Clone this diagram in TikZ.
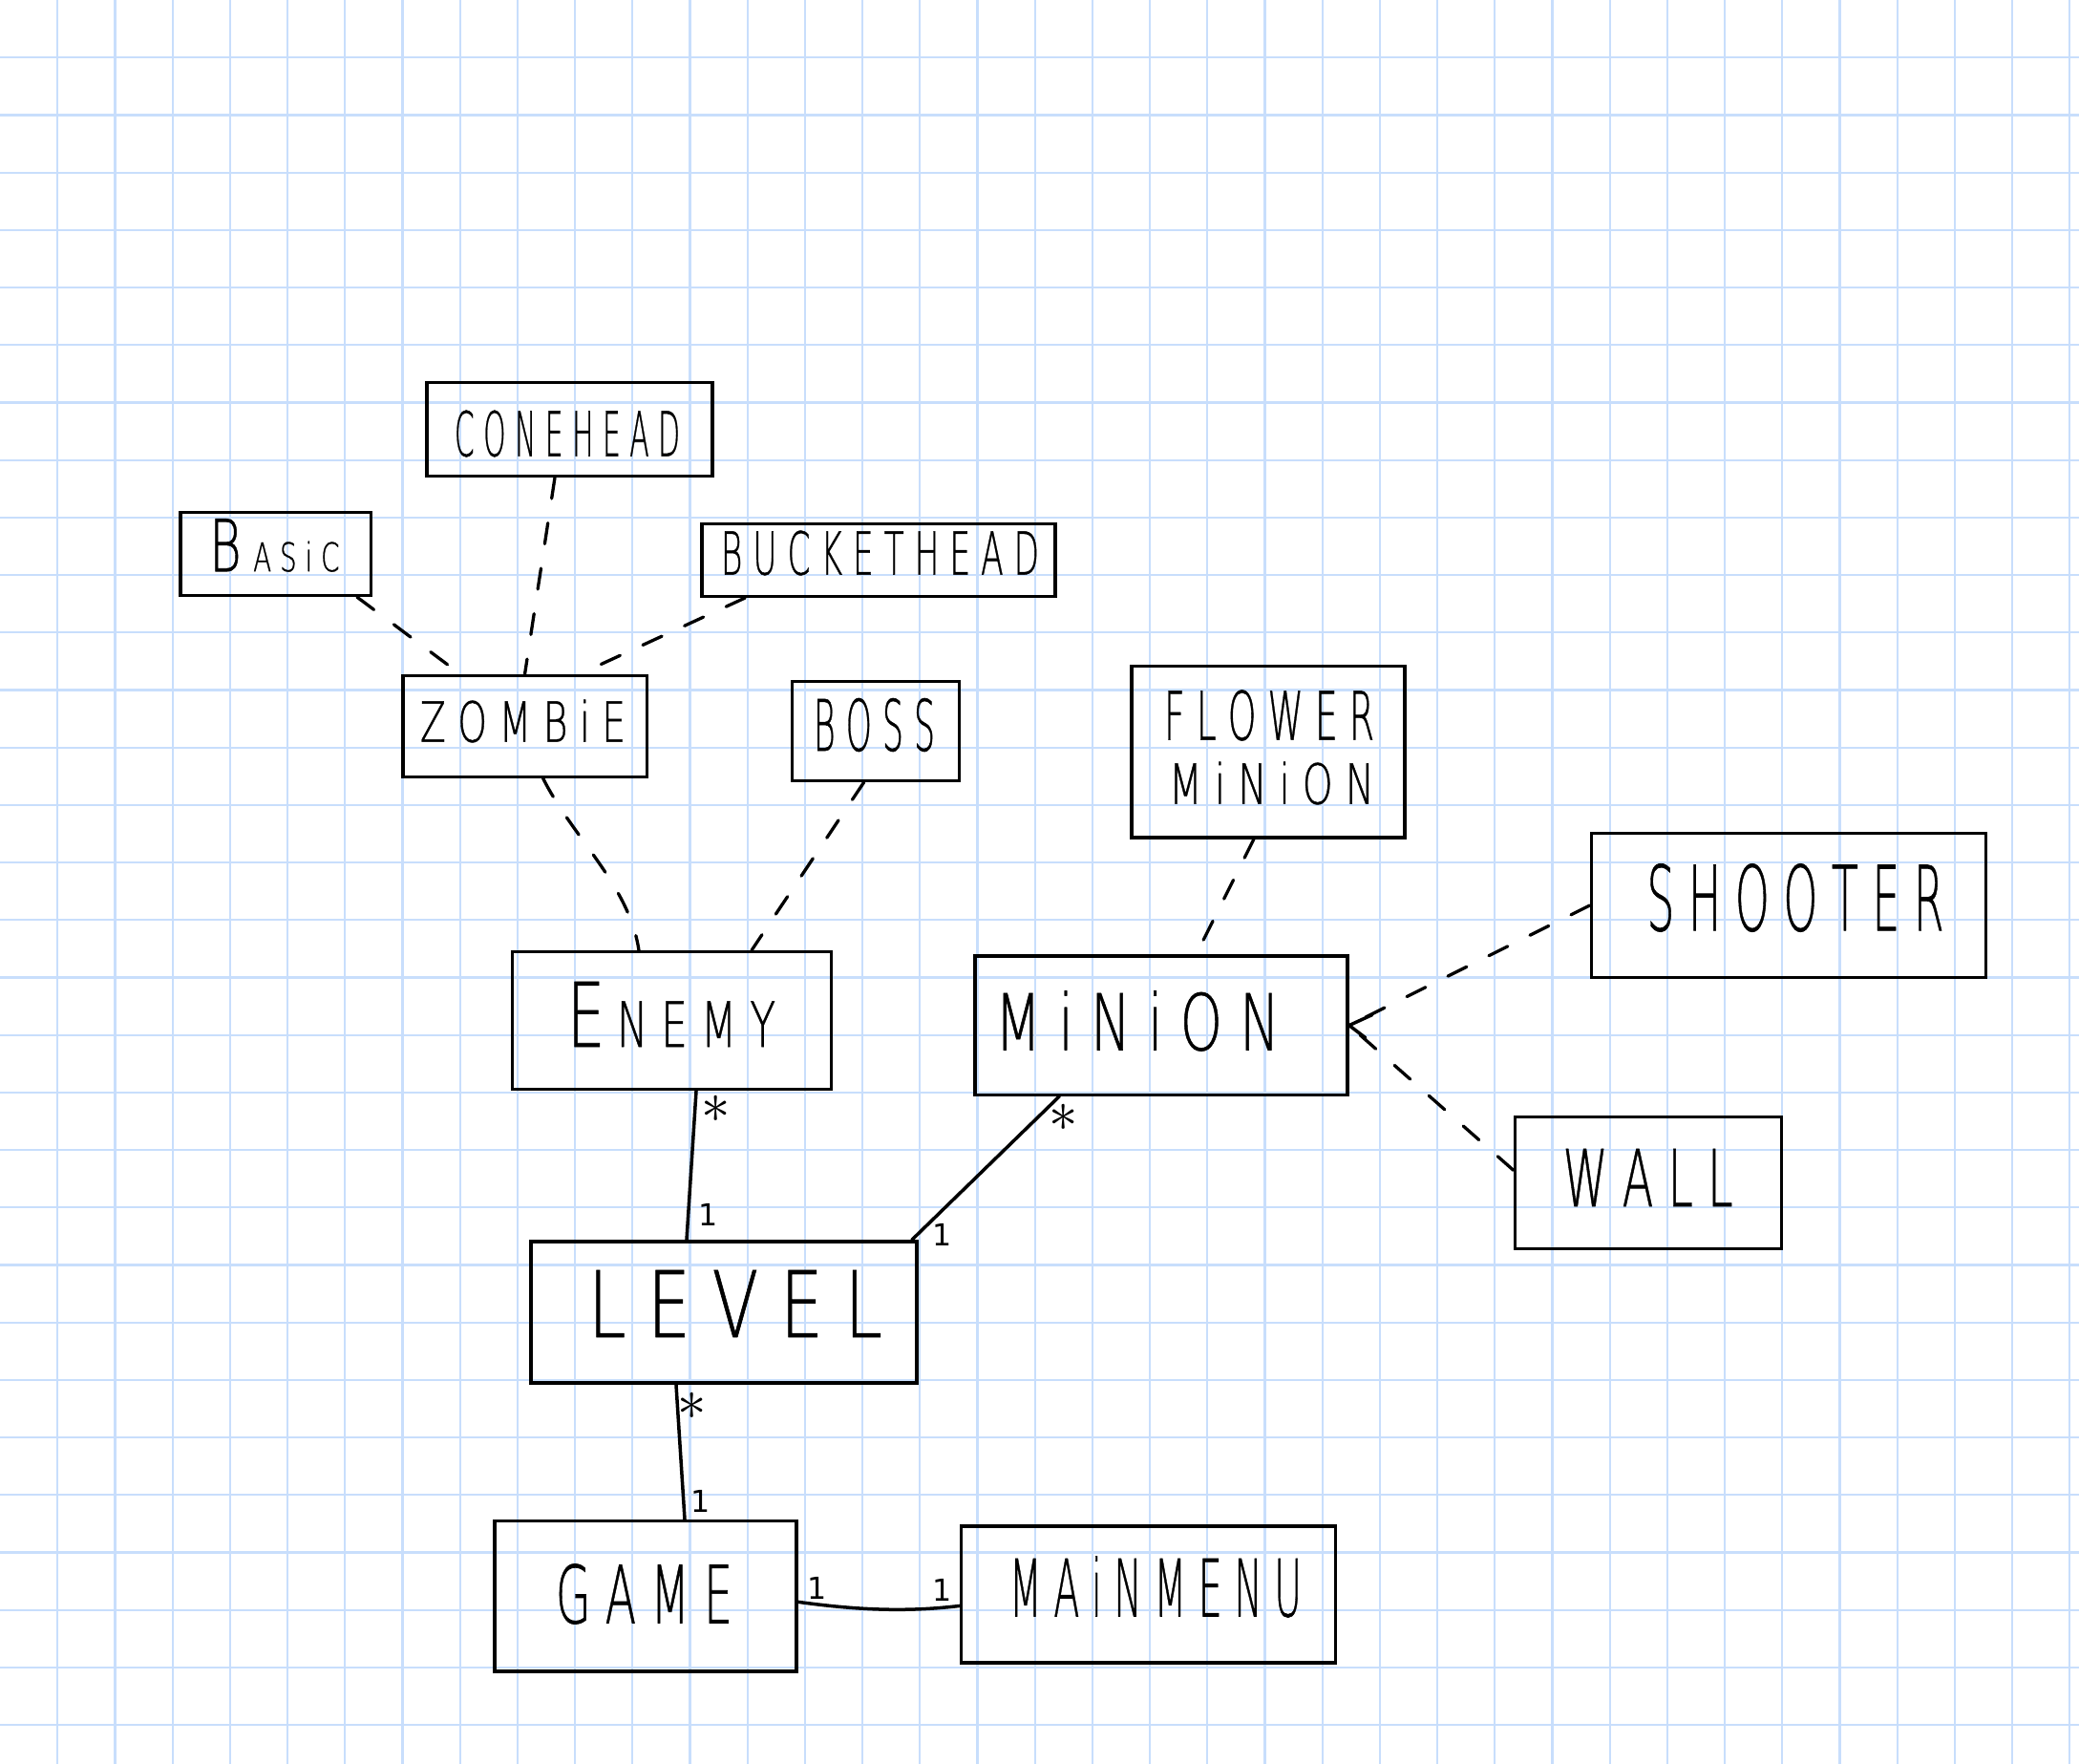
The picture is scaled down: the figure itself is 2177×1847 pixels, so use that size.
\documentclass[tikz,border=0pt]{standalone}
\usepackage{fontspec}
\usepackage{graphicx}
\IfFontExistsTF{DejaVu Sans ExtraLight}
  {\newfontfamily\hand{DejaVu Sans ExtraLight}[FakeBold=0.8]}
  {\IfFontExistsTF{DejaVuSans-ExtraLight.ttf}
    {\newfontfamily\hand{DejaVuSans-ExtraLight.ttf}[FakeBold=0.8]}
    {\newfontfamily\hand{DejaVu Sans}}}
\newfontfamily\handreg{DejaVu Sans}
\newcommand\hwtext[3]{\resizebox{#1}{#2}{\hand #3}}
\definecolor{gridblue}{RGB}{200,222,252}
\tikzset{
  grid line/.style={draw=gridblue, line width=0.022cm},
  classbox/.style={draw=black, line width=0.033cm, rectangle, inner sep=0pt},
  hw/.style={inner sep=0pt, anchor=center},
  dep/.style={draw=black, line width=0.033cm, dash pattern=on 0.22cm off 0.26cm, line cap=round},
  assoc/.style={draw=black, line width=0.035cm, line cap=round, line join=round},
  mult/.style={inner sep=0pt, font=\handreg\fontsize{9pt}{9pt}\selectfont},
  multstar/.style={inner sep=0pt, font=\LARGE},
}
\begin{document}
\begin{tikzpicture}[x=0.01cm,y=-0.01cm]
\useasboundingbox (0,0) rectangle (2177,1847);
\fill[white] (0,0) rectangle (2177,1847);
\foreach \k in {1,...,36} \draw[grid line] ({60.2*\k},0) -- ({60.2*\k},1847);
\foreach \k in {1,...,30} \draw[grid line] (0,{60.2*\k}) -- (2177,{60.2*\k});

% boxes
\node[classbox, minimum width=2.99cm, minimum height=0.98cm] (conehead) at (596.5,449.5) {};
\node[classbox, minimum width=1.99cm, minimum height=0.87cm] (basic) at (288.7,580) {};
\node[classbox, minimum width=3.70cm, minimum height=0.76cm] (bucket) at (920,586.3) {};
\node[classbox, minimum width=2.55cm, minimum height=1.06cm] (zombie) at (549.6,760.2) {};
\node[classbox, minimum width=1.75cm, minimum height=1.04cm] (boss) at (916.7,765.3) {};
\node[classbox, minimum width=2.86cm, minimum height=1.79cm] (flower) at (1328,787.3) {};
\node[classbox, minimum width=3.34cm, minimum height=1.44cm] (enemy) at (703.5,1068.7) {};
\node[classbox, minimum width=3.90cm, minimum height=1.45cm] (minion) at (1216,1073.6) {};
\node[classbox, minimum width=4.13cm, minimum height=1.51cm] (shooter) at (1873,948) {};
\node[classbox, minimum width=2.79cm, minimum height=1.38cm] (wall) at (1726,1238.3) {};
\node[classbox, minimum width=4.04cm, minimum height=1.48cm] (level) at (758,1374) {};
\node[classbox, minimum width=3.16cm, minimum height=1.57cm] (game) at (676,1671.3) {};
\node[classbox, minimum width=3.92cm, minimum height=1.43cm] (mainmenu) at (1202.6,1669.4) {};

% texts
\node[hw] (conehead-t) at (594,454) {\hwtext{2.36cm}{0.48cm}{C O N E H E A D}};
\node[hw] (basic-t) at (287.5,571) {\hwtext{1.36cm}{0.55cm}{B\hspace{0.25em}\scalebox{0.55}{A S i C}}};
\node[hw] (bucket-t) at (921.5,579) {\hwtext{3.33cm}{0.46cm}{B U C K E T H E A D}};
\node[hw] (zombie-t) at (547.5,755) {\hwtext{2.15cm}{0.44cm}{Z O M B i E}};
\node[hw] (boss-t) at (915.5,759) {\hwtext{1.27cm}{0.55cm}{B O S S}};
\node[hw] (flower-t1) at (1329,749) {\hwtext{2.20cm}{0.52cm}{F L O W E R}};
\node[hw] (flower-t2) at (1331.5,820) {\hwtext{2.15cm}{0.44cm}{M i N i O N}};
\node[hw] (enemy-t) at (703,1062) {\hwtext{2.18cm}{0.68cm}{E\hspace{0.2em}\scalebox{0.7}{N E M Y}}};
\node[hw] (minion-t) at (1191,1069) {\hwtext{2.98cm}{0.62cm}{M i N i O N}};
\node[hw] (shooter-t) at (1880,940) {\hwtext{3.11cm}{0.70cm}{S H O O T E R}};
\node[hw] (wall-t) at (1725.6,1233) {\hwtext{1.78cm}{0.60cm}{W A L L}};
\node[hw] (level-t) at (770,1365) {\hwtext{3.08cm}{0.70cm}{L E V E L}};
\node[hw] (game-t) at (674.5,1669) {\hwtext{1.85cm}{0.62cm}{G A M E}};
\node[hw] (mainmenu-t) at (1210,1661.5) {\hwtext{3.06cm}{0.63cm}{M A i N M E N U}};

% dependency (dashed) connectors
\draw[dep] ([xshift=-0.16cm]basic.south east) -- ([xshift=-0.68cm]zombie.north);
\draw[dep] ([xshift=-0.155cm]conehead.south) -- (zombie.north);
\draw[dep] ([xshift=0.47cm]bucket.south west) -- ([xshift=0.58cm]zombie.north);
\draw[dep] ([xshift=0.19cm]zombie.south) .. controls +(31,62) and +(-10,-68) .. ([xshift=-0.345cm]enemy.north);
\draw[dep] ([xshift=-0.12cm]boss.south) -- ([xshift=0.835cm]enemy.north);
\draw[dep] ([xshift=-0.15cm]flower.south) -- ([xshift=0.365cm]minion.north);
\draw[dep] (shooter.west) -- (minion.east);
\draw[dep] ([yshift=0.13cm]wall.west) -- (minion.east);
\draw[assoc] ([xshift=0.24cm,yshift=0.11cm]minion.east) -- (minion.east) -- ([xshift=0.17cm,yshift=-0.13cm]minion.east);

% associations
\draw[assoc] ([xshift=0.255cm]enemy.south) -- ([xshift=-0.39cm]level.north);
\draw[assoc] ([xshift=-1.065cm]minion.south) -- ([xshift=-0.07cm]level.north east);
\draw[assoc] ([xshift=-0.5cm]level.south) -- ([xshift=0.41cm]game.north);
\draw[assoc] ([yshift=-0.06cm]game.east) .. controls +(58,8) and +(-58,7) .. ([yshift=-0.12cm]mainmenu.west);

% multiplicities
\node[multstar] (enemy-m) at (750,1161) {$\ast$};
\node[mult] (level-m1) at (742,1272) {1};
\node[multstar] (minion-m) at (1114,1170) {$\ast$};
\node[mult] (level-m2) at (987,1293) {1};
\node[multstar] (level-m3) at (725,1472) {$\ast$};
\node[mult] (game-m1) at (734,1572) {1};
\node[mult] (game-m2) at (856,1663) {1};
\node[mult] (menu-m) at (987,1665) {1};
\end{tikzpicture}
\end{document}
